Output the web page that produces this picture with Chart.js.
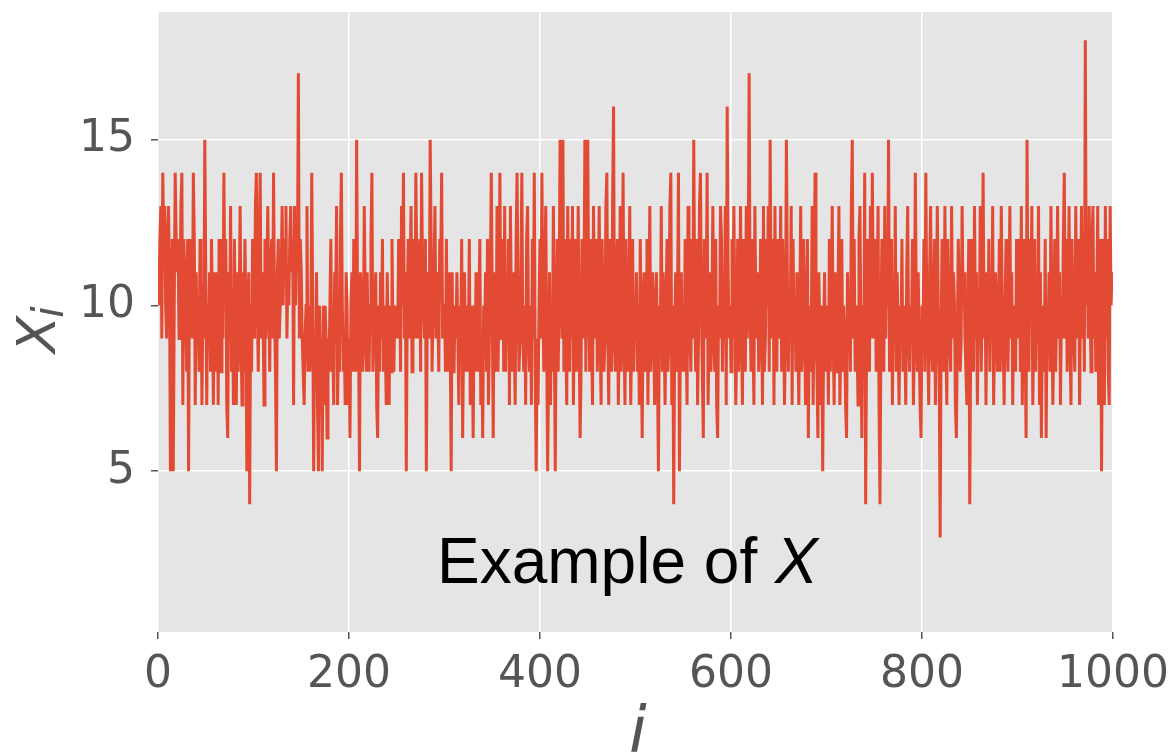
<!DOCTYPE html>
<html>
<head>
<meta charset="utf-8">
<script src="https://cdn.jsdelivr.net/npm/chart.js@4.4.0/dist/chart.umd.min.js"></script>
<style>
  body { margin: 0; background: #fff; }
  canvas { display: block; }
</style>
</head>
<body>
<canvas id="seriesChart" width="1173" height="755"></canvas>
<script>
// X_i values for i = 0..999 (50 per row)
const xValues = [
  11,10,12,13,9,14,12,13,10,9, 12,13,11,5,9,12,5,10,14,12, 11,12,9,10,13,14,7,12,11,10, 8,12,5,11,12,10,9,14,12,7, 11,9,10,8,12,11,7,10,9,15,
  11,7,10,9,11,8,12,10,7,11, 9,8,11,7,12,10,8,12,9,14, 10,12,7,6,11,9,13,8,10,7, 12,9,7,11,8,10,13,9,7,11, 8,12,10,5,9,11,4,10,8,12,
  11,9,13,14,10,8,12,14,9,11, 10,7,12,9,11,13,10,8,11,12, 9,14,10,8,5,11,12,9,10,11, 13,10,12,11,13,9,11,10,12,13, 11,12,7,13,10,12,11,17,9,12,
  11,9,8,7,9,10,13,8,10,8, 9,14,10,5,9,8,11,7,5,10, 8,9,5,10,7,10,9,6,9,8, 10,12,8,9,7,11,10,13,7,9, 8,12,14,10,8,9,7,11,10,7,
  9,6,10,11,8,12,9,8,15,10, 9,5,11,10,8,9,13,10,8,11, 9,8,10,12,14,8,9,10,11,7, 6,10,8,11,9,12,8,10,9,7, 11,9,7,10,8,12,9,8,10,9,
  10,9,12,11,8,13,10,14,9,11, 5,10,12,9,11,13,8,10,12,9, 14,11,9,10,12,8,14,11,10,9, 12,5,10,11,9,15,12,8,10,11, 13,9,11,10,8,12,11,14,9,10,
  10,8,12,8,9,11,9,5,11,8, 8,10,9,11,9,7,10,9,12,6, 9,11,8,10,8,9,12,7,10,9, 6,10,8,11,9,8,10,12,7,9, 6,10,9,11,8,12,7,9,11,14,
  10,6,11,9,8,13,8,10,14,9, 9,12,8,13,8,10,9,12,7,13, 10,8,11,9,7,12,14,10,8,9, 11,14,9,8,10,7,12,13,9,8, 10,7,12,9,14,8,5,9,7,10,
  12,9,14,10,8,11,13,9,5,8, 11,7,10,8,13,9,5,10,12,8, 10,15,13,9,15,8,12,9,7,13, 10,8,12,9,13,7,10,12,8,9, 13,9,6,8,12,9,10,15,8,13,
  15,10,8,12,9,7,13,10,9,12, 8,10,13,9,7,12,10,8,9,13, 14,9,7,12,10,8,13,16,9,8, 11,12,7,9,13,8,10,14,9,7, 12,9,8,10,13,7,9,12,8,10,
  9,11,8,10,7,12,9,6,10,11, 8,9,12,7,10,13,8,9,11,10, 7,9,11,8,5,10,9,13,8,11, 9,7,10,12,8,9,13,14,7,10, 4,9,11,8,10,14,5,9,11,8,
  10,8,12,9,7,13,10,9,8,12, 9,15,10,8,12,7,9,13,14,10, 8,6,12,9,10,14,7,9,11,8, 10,13,9,8,12,7,6,10,9,13, 12,8,10,9,13,7,16,11,9,10,
  8,12,9,13,10,7,9,12,8,10, 13,9,7,12,10,8,13,9,11,17, 10,8,12,9,7,13,10,9,11,8, 9,12,10,7,13,8,9,12,10,13, 8,15,10,9,12,7,13,9,8,12,
  10,9,13,8,12,10,7,9,15,11, 8,10,9,13,7,12,9,10,8,11, 9,7,10,13,8,9,12,10,7,9, 12,6,10,8,9,13,7,10,14,9, 8,6,11,9,7,10,5,9,11,8,
  10,9,7,12,8,10,13,9,7,11, 9,8,10,13,7,9,12,8,10,9, 7,6,11,9,10,8,13,15,9,12, 8,10,9,7,12,13,9,6,10,8, 14,4,9,12,10,8,13,9,14,10,
  9,12,8,10,13,7,4,9,12,10, 8,13,9,11,10,15,8,9,12,7, 10,9,13,8,11,9,7,10,9,12, 8,10,9,7,11,13,9,8,10,9, 12,7,9,14,10,8,11,9,7,6,
  10,9,12,8,14,10,9,7,11,13, 9,8,10,12,7,9,13,10,8,3, 9,12,10,8,13,9,7,12,10,9, 8,13,9,11,10,7,6,9,12,10, 8,9,13,10,11,9,8,7,10,12,
  4,9,12,10,8,13,9,11,7,10, 9,13,8,10,14,9,11,7,10,9, 12,8,10,9,13,7,9,11,10,8, 9,12,8,13,10,9,7,10,12,9, 8,10,13,9,11,7,10,9,8,12,
  10,9,12,8,13,7,10,12,9,6, 15,9,8,12,10,13,7,9,12,8, 10,9,13,7,11,6,9,10,8,12, 6,10,9,11,8,13,10,7,9,12, 8,10,13,9,11,7,10,9,12,14,
  9,12,8,10,13,9,7,12,10,9, 8,13,10,9,12,7,10,13,9,11, 8,18,10,12,9,13,10,8,12,13, 9,11,8,10,13,7,9,12,5,10, 12,7,13,9,12,8,7,13,10,11
];

// axis ticks
const xTicks = [0, 200, 400, 600, 800, 1000];
const yTicks = [5, 10, 15];

const points = xValues.map((v, i) => ({ x: i, y: v }));

// grey panel + texts that Chart.js can't lay out by itself
const panelAndText = {
  id: 'panelAndText',
  beforeDraw(chart) {
    const { ctx, chartArea: a } = chart;
    ctx.save();
    ctx.fillStyle = '#E5E5E5';
    ctx.fillRect(a.left, a.top, a.right - a.left, a.bottom - a.top);
    ctx.restore();
  },
  afterDraw(chart) {
    const { ctx } = chart;
    ctx.save();
    // in-panel annotation
    ctx.fillStyle = '#000';
    ctx.textBaseline = 'alphabetic';
    ctx.font = '64px "Liberation Sans", Arial, sans-serif';
    const part1 = 'Example of ';
    const w1 = ctx.measureText(part1).width;
    ctx.fillText(part1, 437, 583);
    ctx.font = 'italic 64px "Liberation Sans", Arial, sans-serif';
    ctx.fillText('X', 437 + w1, 583);

    // x axis title
    ctx.fillStyle = '#555555';
    ctx.font = 'italic 64px "DejaVu Sans"';
    ctx.textAlign = 'center';
    ctx.fillText('i', 638, 752);

    // y axis title X_i
    ctx.translate(55, 330);
    ctx.rotate(-Math.PI / 2);
    ctx.textAlign = 'left';
    ctx.font = 'italic 54px "DejaVu Sans"';
    const wx = ctx.measureText('X').width;
    ctx.fillText('X', -23, 0);
    ctx.font = 'italic 42px "DejaVu Sans"';
    ctx.fillText('i', -25 + wx, 8);
    ctx.restore();
  }
};

new Chart(document.getElementById('seriesChart'), {
  type: 'line',
  data: {
    datasets: [{
      data: points,
      borderColor: '#E24A33',
      borderWidth: 3,
      pointRadius: 0,
      tension: 0
    }]
  },
  options: {
    responsive: false,
    animation: false,
    layout: { padding: { top: 12, right: 60, left: 0, bottom: 0 } },
    plugins: { legend: { display: false }, tooltip: { enabled: false } },
    scales: {
      x: {
        type: 'linear',
        min: 0,
        max: 1000,
        afterBuildTicks: (scale) => { scale.ticks = xTicks.map(v => ({ value: v })); },
        afterFit: (scale) => {
          scale.height = 123;
          scale.paddingLeft = 0;
          scale.paddingRight = 0;
        },
        border: { display: false },
        grid: { color: '#FFFFFF', lineWidth: 1.5, tickColor: '#555555', tickLength: 7, tickWidth: 1.5 },
        ticks: {
          color: '#555555', padding: 10, maxRotation: 0,
          font: { family: 'DejaVu Sans', size: 44 },
          callback: (v) => String(v)
        }
      },
      y: {
        min: 0.15,
        max: 18.85,
        afterBuildTicks: (scale) => { scale.ticks = yTicks.map(v => ({ value: v })); },
        afterFit: (scale) => {
          scale.width = 158;
          scale.paddingTop = 0;
          scale.paddingBottom = 0;
        },
        border: { display: false },
        grid: { color: '#FFFFFF', lineWidth: 1.5, tickColor: '#555555', tickLength: 7, tickWidth: 1.5 },
        ticks: {
          color: '#555555', padding: 16,
          font: { family: 'DejaVu Sans', size: 44 },
          callback: (v) => String(v)
        }
      }
    }
  },
  plugins: [panelAndText]
});
</script>
</body>
</html>
